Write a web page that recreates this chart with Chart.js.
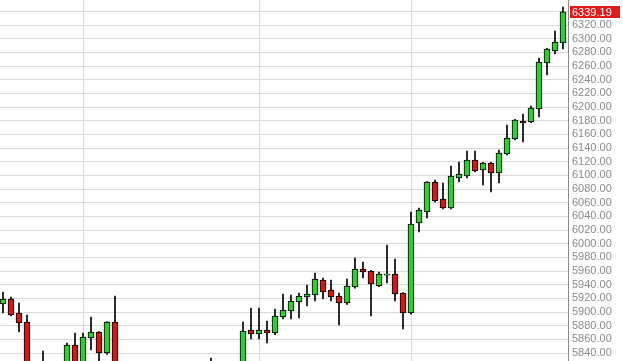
<!DOCTYPE html>
<html>
<head>
<meta charset="utf-8">
<script src="https://cdn.jsdelivr.net/npm/chart.js@4"></script>
<style>
  html, body { margin: 0; padding: 0; background: #fff; }
  canvas { display: block; }
</style>
</head>
<body>
<canvas id="chart" width="623" height="361"></canvas>
<script>
// candle values (bars hidden below the bottom edge are estimates)
const opens = [5911.7, 5919.0, 5898.5, 5885.4, 5815, 5812, 5805, 5798, 5812, 5851.7,
  5818, 5862.0, 5870.8, 5840.0, 5885.4, 5815, 5795, 5780, 5792, 5800,
  5790, 5778, 5788, 5802, 5810, 5798, 5812, 5820, 5805, 5810,
  5815, 5873.7, 5867.8, 5873.7, 5869.3, 5892.7, 5901.5, 5914.6, 5922.0, 5924.9,
  5946.8, 5932.2, 5923.4, 5913.2, 5936.6, 5962.9, 5960.0, 5938.0, 5954.0, 5955.6,
  5927.8, 5898.5, 6030.2, 6046.3, 6090.2, 6065.4, 6052.2, 6096.1, 6099.0, 6122.4,
  6107.8, 6118.0, 6103.4, 6131.2, 6153.2, 6179.5, 6178.1, 6197.1, 6264.4, 6282.0,
  6293.7];
const highs = [5929.3, 5922.0, 5913.2, 5895.6, 5822, 5843.0, 5820, 5818, 5854.7, 5869.3,
  5869.3, 5892.7, 5871.5, 5886, 5923.4, 5822, 5805, 5800, 5810, 5815,
  5805, 5795, 5808, 5818, 5820, 5815, 5832.7, 5826, 5818, 5822,
  5885.4, 5905.9, 5905.9, 5886.8, 5904.4, 5926.3, 5924.9, 5927.8, 5939.5, 5957.1,
  5949.8, 5946.8, 5927.8, 5948.3, 5979.0, 5973.2, 5961, 5958.5, 5998.1, 5977.6,
  5928.5, 6046.3, 6052.2, 6091, 6093.2, 6088.8, 6113.7, 6119.5, 6135.6, 6135.6,
  6119, 6119, 6137.1, 6173.7, 6182, 6189.8, 6201.5, 6271.7, 6286, 6311.2,
  6346.3];
const lows = [5898.5, 5894.2, 5870.8, 5805, 5790, 5795, 5790, 5792, 5808, 5810,
  5812, 5844.4, 5826, 5838, 5805, 5790, 5770, 5765, 5780, 5785,
  5772, 5760, 5780, 5795, 5792, 5790, 5800, 5795, 5790, 5798,
  5810, 5860.5, 5860.5, 5854.7, 5867, 5889.8, 5889.8, 5891.2, 5908.8, 5916.1,
  5919.0, 5916.1, 5881.0, 5911, 5935, 5949.8, 5894.2, 5937, 5942.4, 5916.1,
  5875.1, 5897, 6017.1, 6037.6, 6061, 6051, 6051, 6090.2, 6096.1, 6104.9,
  6085.9, 6075.6, 6088.8, 6130, 6152, 6148.8, 6177, 6185.4, 6246.8, 6277.6,
  6284.9];
const closes = [5919.0, 5895.6, 5883.9, 5815, 5800, 5805, 5798, 5812, 5851.7, 5815,
  5863.4, 5870.8, 5840.0, 5885.4, 5815, 5795, 5780, 5792, 5800, 5790,
  5778, 5788, 5802, 5810, 5798, 5812, 5820, 5805, 5810, 5815,
  5872.2, 5867.8, 5873.7, 5869.3, 5894.2, 5902.9, 5916.1, 5923.4, 5926.3, 5948.3,
  5929.3, 5922.0, 5913.2, 5938.0, 5962.9, 5958.5, 5941.0, 5955.6, 5955.5, 5926.3,
  5898.5, 6028.8, 6049.3, 6090.2, 6062.4, 6052.2, 6099.0, 6101.9, 6122.4, 6106.3,
  6118.0, 6103.4, 6132.7, 6154.6, 6181.0, 6176.6, 6198.5, 6265.9, 6284.9, 6295.1,
  6339.19];

// price axis ticks and the session separators (candle index)
const yTicks = [5840, 5860, 5880, 5900, 5920, 5940, 5960, 5980, 6000, 6020, 6040, 6060,
  6080, 6100, 6120, 6140, 6160, 6180, 6200, 6220, 6240, 6260, 6280, 6300, 6320, 6340];
const sessionMarks = [10, 32, 51];
const lastPrice = closes[closes.length - 1];

const upColor = '#33cc33';
const downColor = '#cc1b1b';

const bodies = opens.map((o, i) => ({ x: i, y: [o, closes[i]] }));
const wicks = lows.map((l, i) => ({ x: i, y: [l, highs[i]] }));
const bodyColors = opens.map((o, i) => closes[i] >= o ? upColor : downColor);

// red box with the last price on the axis
const priceTag = {
  id: 'priceTag',
  afterDraw(chart) {
    const ctx = chart.ctx;
    const y = Math.round(chart.scales.y.getPixelForValue(lastPrice));
    const left = chart.chartArea.right + 2;
    ctx.save();
    ctx.fillStyle = '#e01b1b';
    ctx.fillRect(left, y - 6, 50, 12);
    ctx.fillStyle = '#ffffff';
    ctx.font = '11px "Liberation Sans", Arial, sans-serif';
    ctx.textBaseline = 'middle';
    ctx.fillText(lastPrice.toFixed(2), left + 2, y + 0.5);
    ctx.restore();
  }
};

new Chart(document.getElementById('chart').getContext('2d'), {
  type: 'bar',
  data: {
    datasets: [
      {
        label: 'body',
        data: bodies,
        backgroundColor: bodyColors,
        borderColor: '#000',
        borderWidth: 1,
        borderSkipped: false,
        barThickness: 6,
        grouped: false,
        order: 0
      },
      {
        label: 'wick',
        data: wicks,
        backgroundColor: '#000',
        borderWidth: 0,
        barThickness: 1,
        grouped: false,
        order: 1
      }
    ]
  },
  options: {
    responsive: false,
    animation: false,
    devicePixelRatio: 1,
    layout: { padding: 0 },
    plugins: {
      legend: { display: false },
      tooltip: { enabled: false }
    },
    scales: {
      x: {
        type: 'linear',
        min: -0.375,
        max: 70.625,
        offset: false,
        border: { display: false },
        grid: { color: '#d6d6d6', drawTicks: false, offset: false },
        ticks: { display: false },
        afterBuildTicks: (scale) => {
          scale.ticks = sessionMarks.map(v => ({ value: v }));
        },
        afterFit: (scale) => {
          scale.height = 0;
          scale.paddingLeft = 0;
          scale.paddingRight = 0;
        }
      },
      y: {
        position: 'right',
        min: 5828.3,
        max: 6356.6,
        border: { display: true, color: '#8c8c8c' },
        grid: { color: '#dadada', drawTicks: false },
        ticks: {
          autoSkip: false,
          padding: 4,
          color: '#8a8a8a',
          font: { family: '"Liberation Sans", Arial, sans-serif', size: 11 },
          callback: (v) => v === 6340 ? '' : Number(v).toFixed(2)
        },
        afterBuildTicks: (scale) => {
          scale.ticks = yTicks.map(v => ({ value: v }));
        },
        afterFit: (scale) => {
          scale.width = 55;
          scale.paddingTop = 0;
          scale.paddingBottom = 0;
        }
      }
    }
  },
  plugins: [priceTag]
});
</script>
</body>
</html>
